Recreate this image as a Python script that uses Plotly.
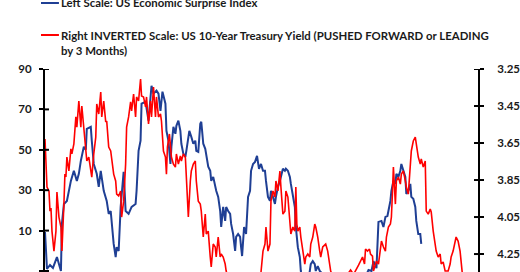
import plotly.graph_objects as go

# ---------------- data ----------------
# time index (weeks, arbitrary origin)
surprise_t = [0, 2, 5, 8, 12, 16, 17, 19, 22, 26, 29, 32, 34, 36, 39, 41, 42, 46, 47, 49, 52, 54, 56, 57, 59, 62, 64, 66,
              69, 71, 72, 74, 76, 79, 80, 81, 84, 87, 91, 92, 94, 96, 97, 101, 104, 107, 109, 112, 114, 116, 118, 121,
              122, 124, 126, 127, 129, 131, 132, 134, 136, 137, 139, 141, 142, 145, 147, 149, 151, 152, 154, 156, 157,
              159, 161, 162, 164, 166, 167, 169, 171, 172, 174, 176, 177, 179, 181, 182, 184, 186, 187, 189, 191, 192,
              194, 196, 197, 198, 200, 202, 204, 206, 207, 209, 211, 213, 215, 217, 219, 221, 222, 224, 226, 227, 229,
              231, 232, 234, 236, 237, 239, 241, 242, 244, 246, 247, 249, 251, 252, 254, 256, 257, 260, 264, 267, 269,
              271, 272, 274, 276, 280, 290, 300, 310, 320, 325, 328, 330, 333, 335, 338, 340, 342, 344, 345, 347, 348,
              350, 352, 353, 355, 357, 358, 360, 362, 363, 365, 367, 368, 370, 372, 373, 375, 377, 378]
surprise_v = [9.3, -9.0, -7.0, -8.5, -3.1, -10.0, 13.3, 23.2, 24.7, 34.6, 39.6, 34.6, 38.1, 44.5, 51.5, 50.0, 60.4, 61.4,
              54.5, 43.0, 38.1, 31.6, 39.6, 36.6, 29.7, 24.7, 18.3, 19.7, 3.4, -3.1, 1.8, -0.1, 21.7, 39.1, 24.7, 19.7,
              18.3, 21.7, 23.2, 29.7, 49.5, 54.5, 72.8, 73.8, 64.4, 81.7, 77.8, 79.3, 77.8, 69.3, 78.8, 72.8, 59.4, 54.5,
              43.0, 51.5, 61.4, 57.9, 61.9, 64.4, 59.4, 53.0, 48.0, 46.5, 49.5, 59.4, 56.4, 53.0, 54.5, 49.5, 49.0, 62.9,
              63.9, 53.0, 50.5, 48.0, 41.6, 39.6, 34.6, 36.6, 31.6, 29.7, 26.7, 19.7, 11.8, 21.7, 14.8, 21.7, 19.7, 18.3,
              13.3, 8.3, -0.1, 6.9, 8.3, 6.9, 1.8, -2.6, 11.8, 8.3, 26.7, 29.7, 39.6, 43.0, 44.0, 47.0, 40.6, 43.0, 39.6,
              39.6, 34.6, 26.7, 24.7, 29.7, 26.7, 23.2, 26.7, 31.6, 34.6, 36.6, 40.6, 39.6, 40.6, 39.6, 36.6, 33.1, 28.2,
              21.7, 11.8, 1.8, -3.1, -10.0, -17.0, -17.0, -6.6, -5.1, -6.6, -10.0, -7.6, -10.0, -12.0, -20.0, -22.0,
              -20.0, -15.0, -9.5, -10.0, -5.1, -8.6, 14.3, 14.8, 11.8, 16.8, 17.2, 19.7, 24.7, 29.7, 34.6, 33.1, 38.1,
              36.6, 39.6, 43.0, 39.6, 36.6, 28.2, 29.7, 33.1, 26.7, 25.7, 21.7, 14.8, 8.3, 8.3, 3.4]

yield_t = [0, 2, 4, 5, 6, 7, 9, 11, 12, 14, 16, 17, 19, 20, 21, 22, 24, 26, 27, 29, 31, 32, 34, 36, 37, 39, 41, 42, 44,
           46, 47, 49, 51, 52, 54, 56, 57, 59, 61, 62, 64, 66, 67, 69, 71, 72, 74, 76, 77, 79, 81, 82, 84, 86, 87, 89,
           91, 92, 94, 96, 97, 99, 101, 102, 104, 106, 107, 109, 111, 112, 114, 116, 117, 119, 121, 122, 123, 125, 127,
           129, 131, 132, 134, 136, 137, 139, 141, 142, 144, 146, 147, 149, 151, 152, 154, 156, 157, 159, 161, 162, 164,
           166, 167, 169, 171, 172, 174, 176, 177, 179, 181, 182, 187, 195, 205, 213, 217, 219, 221, 222, 224, 226, 227,
           229, 231, 232, 234, 236, 237, 239, 241, 242, 244, 246, 247, 249, 251, 252, 253, 254, 256, 257, 259, 261, 262,
           264, 266, 267, 269, 271, 272, 274, 276, 277, 279, 281, 282, 284, 286, 287, 293, 300, 307, 310, 315, 317, 319,
           321, 322, 324, 326, 327, 329, 330, 331, 333, 335, 337, 338, 340, 342, 343, 345, 347, 348, 349, 350, 352, 353,
           355, 357, 358, 360, 362, 363, 365, 367, 368, 370, 372, 373, 375, 377, 378, 380, 382, 383, 385, 387, 388, 390,
           392, 393, 395, 397, 398, 400, 402, 405, 407, 408, 410, 412, 413, 415, 417, 418, 419, 421]
yield_v = [3.628, 3.888, 3.909, 4.018, 4.001, 4.126, 4.234, 4.126, 3.915, 4.050, 4.104, 4.234, 3.980, 3.818, 3.834,
           3.726, 3.801, 3.682, 3.709, 3.655, 3.509, 3.564, 3.423, 3.564, 3.450, 3.585, 3.672, 3.747, 3.726, 3.818,
           3.834, 3.709, 3.618, 3.439, 3.493, 3.374, 3.509, 3.423, 3.536, 3.531, 3.672, 3.693, 3.747, 3.818, 3.855,
           3.926, 3.936, 3.909, 4.050, 3.964, 3.764, 3.564, 3.509, 3.428, 3.477, 3.385, 3.509, 3.401, 3.423, 3.304,
           3.396, 3.401, 3.455, 3.401, 3.547, 3.423, 3.509, 3.347, 3.509, 3.401, 3.509, 3.493, 3.531, 3.693, 3.726,
           3.818, 3.672, 3.601, 3.726, 3.764, 3.780, 3.709, 3.764, 3.720, 3.747, 3.709, 3.726, 3.855, 4.050, 3.855,
           3.801, 3.764, 3.747, 3.855, 3.964, 3.980, 4.018, 4.158, 4.034, 4.142, 4.126, 4.266, 4.320, 4.196, 4.212,
           4.266, 4.158, 4.266, 4.250, 4.266, 4.304, 4.342, 4.42, 4.47, 4.44, 4.42, 4.347, 4.234, 4.196, 4.104, 4.234,
           4.196, 3.964, 3.909, 3.942, 3.855, 3.909, 3.801, 3.888, 4.034, 4.018, 3.909, 3.942, 4.104, 4.142, 4.104,
           4.126, 3.888, 4.088, 4.126, 4.104, 4.158, 4.234, 4.304, 4.266, 4.250, 4.266, 4.196, 4.158, 4.088, 4.104,
           4.158, 4.234, 4.266, 4.212, 4.201, 4.196, 4.234, 4.304, 4.342, 4.42, 4.39, 4.336, 4.36, 4.31, 4.288, 4.266,
           4.304, 4.223, 4.234, 4.223, 4.250, 4.261, 4.342, 4.320, 4.288, 4.304, 4.234, 4.180, 4.212, 4.234, 4.158,
           4.104, 4.088, 4.050, 3.926, 3.780, 3.980, 3.855, 3.834, 3.872, 3.818, 3.801, 3.855, 3.888, 3.926, 3.764,
           3.693, 3.639, 3.618, 3.655, 3.726, 3.764, 3.736, 3.780, 3.747, 4.018, 4.034, 4.007, 4.023, 4.126, 4.196,
           4.234, 4.266, 4.250, 4.304, 4.293, 4.342, 4.342, 4.304, 4.266, 4.234, 4.180, 4.158, 4.180, 4.234, 4.288,
           4.342, 4.45]

left_ticks = [90, 70, 50, 30, 10, -10]
right_ticks = [3.25, 3.45, 3.65, 3.85, 4.05, 4.25]
right_tick_text = ["3.25", "3.45", "3.65", "3.85", "4.05", "4.25"]

label_blue = "Left Scale: US Economic Surprise Index"
label_red = "Right INVERTED Scale: US 10-Year Treasury Yield (PUSHED FORWARD or LEADING<br>by 3 Months)"

# ---------------- styling / layout ----------------
W, H = 520, 272
ML, MR, MT, MB = 45, 40, 69, 0
PW, PH = W - ML - MR, H - MT - MB
BLUE = "#1f3f94"
RED = "#ff0000"
TXT = "#1a1a1a"
TICKFONT = dict(family="Lato, Liberation Sans, Arial, sans-serif", size=11.5, color=TXT, weight="bold")
LEGFONT = dict(family="Lato, Liberation Sans, Arial, sans-serif", size=11.4, color=TXT, weight="bold")


def px_x(x):
    return (x - ML) / PW


def px_y(y):
    return (H - MB - y) / PH


fig = go.Figure()
fig.add_trace(go.Scatter(x=surprise_t, y=surprise_v, mode="lines", line=dict(color=BLUE, width=2),
                         yaxis="y", showlegend=False, hoverinfo="skip"))
fig.add_trace(go.Scatter(x=yield_t, y=yield_v, mode="lines", line=dict(color=RED, width=1.6),
                         yaxis="y2", showlegend=False, hoverinfo="skip"))

shapes = []
tick_in = 4 / PW
for v in left_ticks:
    shapes.append(dict(type="line", xref="paper", yref="y", x0=0, x1=tick_in, y0=v, y1=v,
                       line=dict(color="black", width=2)))
for v in right_ticks:
    shapes.append(dict(type="line", xref="paper", yref="y2", x0=1 - tick_in, x1=1, y0=v, y1=v,
                       line=dict(color="black", width=2)))
# legend keys
shapes.append(dict(type="line", xref="paper", yref="paper", x0=px_x(41), x1=px_x(59), y0=px_y(3), y1=px_y(3),
                   line=dict(color=BLUE, width=2)))
shapes.append(dict(type="line", xref="paper", yref="paper", x0=px_x(41), x1=px_x(59), y0=px_y(35), y1=px_y(35),
                   line=dict(color=RED, width=2)))

annotations = [
    dict(xref="paper", yref="paper", x=px_x(59), y=px_y(3), xanchor="left", yanchor="middle",
         text=label_blue, showarrow=False, font=LEGFONT, align="left"),
    dict(xref="paper", yref="paper", x=px_x(59), y=px_y(42.5), xanchor="left", yanchor="middle",
         text=label_red, showarrow=False, font=LEGFONT, align="left"),
]

fig.update_layout(
    width=W, height=H,
    margin=dict(l=ML, r=MR, t=MT, b=MB, pad=0),
    paper_bgcolor="white", plot_bgcolor="white",
    xaxis=dict(visible=False, range=[0, PW], showgrid=False, zeroline=False),
    yaxis=dict(range=[-10.5, 90], tickvals=left_ticks, ticks="outside", ticklen=4, tickwidth=2,
               tickcolor="black", showline=True, linecolor="black", linewidth=2, showgrid=False,
               zeroline=False, tickfont=TICKFONT, ticklabelstandoff=5),
    yaxis2=dict(range=[4.347, 3.25], overlaying="y", side="right", tickvals=right_ticks,
                ticktext=right_tick_text, ticks="outside", ticklen=4, tickwidth=2, tickcolor="black",
                showline=True, linecolor="black", linewidth=2, showgrid=False, zeroline=False,
                tickfont=TICKFONT, ticklabelstandoff=11),
    shapes=shapes,
    annotations=annotations,
)

fig.write_html("out.html")
